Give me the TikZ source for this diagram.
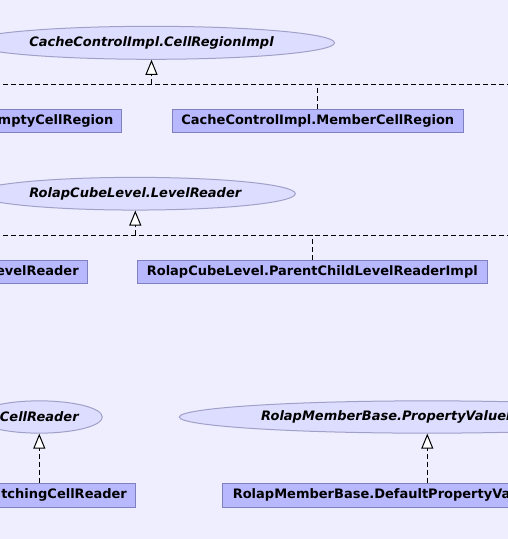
\documentclass[tikz,border=0pt]{standalone}
\usepackage{fontspec}
\setmainfont{DejaVu Sans}
\usetikzlibrary{shapes.geometric,arrows.meta}
\definecolor{bgc}{RGB}{238,238,254}
\definecolor{boxfill}{RGB}{184,184,255}
\definecolor{boxline}{RGB}{128,128,192}
\definecolor{ellfill}{RGB}{221,221,255}
\definecolor{ellline}{RGB}{160,160,200}
\begin{document}
\begin{tikzpicture}[x=1pt,y=-1pt,
  lblfont/.style={font=\fontsize{13}{15}\selectfont\bfseries},
  cls/.style={lblfont,draw=boxline,fill=boxfill,line width=1pt,inner xsep=8.5pt,inner ysep=0pt,minimum height=23pt},
  iface/.style={ellipse,draw=ellline,fill=ellfill,line width=1pt,inner sep=0pt,font=\fontsize{13}{15}\selectfont\bfseries\itshape},
  ilabel/.style={inner sep=0pt,font=\fontsize{13}{15}\selectfont\bfseries\itshape},
  impl/.style={draw=black,line width=1pt,dash pattern=on 5pt off 3pt},
  realize/.style={impl,-{Triangle[length=15pt,width=12pt,fill=white]}}]
\useasboundingbox (0,0) rectangle (508,539);
\fill[bgc] (0,0) rectangle (508,539);
\clip (0,0) rectangle (508,539);

% group 1
\node[iface,minimum width=366pt,minimum height=33pt] (e1) at (151.5,42.8) {CacheControlImpl.CellRegionImpl};
\node[cls,minimum width=291pt] (b1) at (317.8,120.8) {CacheControlImpl.MemberCellRegion};
\node[cls,anchor=east] (b0) at (122.3,120.8) {CacheControlImpl.EmptyCellRegion};
\coordinate (j1) at (151.5,84.3);
\coordinate (l1) at (-5,84.3);
\coordinate (r1) at (515,84.3);
\draw[impl] (l1) -- (r1);
\draw[impl] (b1.north) -- (b1.north |- j1);
\draw[realize] (j1) -- (e1.south);

% group 2
\node[iface,minimum width=320pt,minimum height=32.7pt] (e2) at (135.3,193.7) {RolapCubeLevel.LevelReader};
\node[cls,minimum width=350pt,minimum height=23.3pt] (b2) at (312.3,271.7) {RolapCubeLevel.ParentChildLevelReaderImpl};
\node[cls,anchor=east,minimum height=23.3pt] (b2a) at (87.7,271.7) {RolapCubeLevel.RegularLevelReader};
\coordinate (j2) at (135.3,235.3);
\coordinate (l2) at (-5,235.3);
\coordinate (r2) at (515,235.3);
\draw[impl] (l2) -- (r2);
\draw[impl] (b2.north) -- (b2.north |- j2);
\draw[realize] (j2) -- (e2.south);

% group 3
\node[iface,minimum width=126pt,minimum height=32.3pt] (e3) at (39.3,417) {CellReader};
\node[cls,minimum width=190pt,minimum height=24pt] (b3) at (39.3,495.3) {FastBatchingCellReader};
\draw[realize] (b3.north) -- (e3.south);

% group 4
\node[iface,minimum width=496pt,minimum height=32.3pt] (e4) at (427.3,417) {};
\node[ilabel,anchor=west] (t4) at (261,417) {RolapMemberBase.PropertyValueMapper};
\node[cls,anchor=west,inner xsep=10pt,minimum height=24pt] (b4) at (222.3,495.3) {RolapMemberBase.DefaultPropertyValueMapper};
\draw[realize] (e4.south |- b4.north) -- (e4.south);
\end{tikzpicture}
\end{document}
